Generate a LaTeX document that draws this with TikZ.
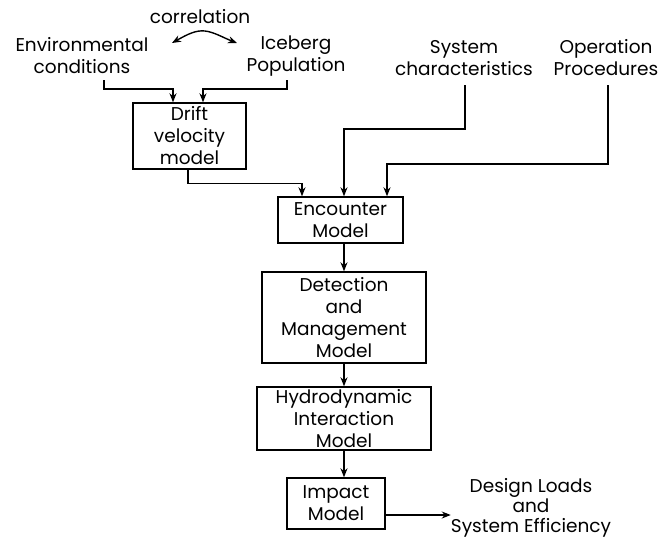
\documentclass[tikz,border=0pt]{standalone}
\usepackage{fontspec}
\setmainfont{Poppins}
\usetikzlibrary{arrows.meta}
\begin{document}
\begin{tikzpicture}[x=1pt,y=-1pt,
  lbl/.style={align=center,inner sep=0pt,font=\fontsize{18.5}{22}\selectfont},
  box/.style={draw,line width=1.4pt,align=center,inner sep=0pt,font=\fontsize{18.5}{22}\selectfont},
  arr/.style={line width=1.4pt,-{Stealth[length=9pt,width=7pt]}},
  dbl/.style={line width=1.4pt,{Stealth[length=9pt,width=7pt]}-{Stealth[length=9pt,width=7pt]}}]
\useasboundingbox (0,0) rectangle (660,539);
% texts
\node[lbl] (corr) at (200,17) {correlation};
\node[lbl] (env) at (82,56) {Environmental\\conditions};
\node[lbl] (ice) at (296,56) {Iceberg\\Population};
\node[lbl] (sys) at (464,58) {System\\characteristics};
\node[lbl] (op) at (606,58) {Operation\\Procedures};
\node[lbl,font=\fontsize{18.5}{20}\selectfont] (design) at (531,508) {Design Loads\\and\\System Efficiency};
% boxes
\node[box,minimum width=113pt,minimum height=66pt] (drift) at (189.5,136) {Drift\\velocity\\model};
\node[box,minimum width=125pt,minimum height=46pt] (enc) at (340.5,220) {Encounter\\Model};
\node[box,minimum width=164pt,minimum height=91pt] (det) at (344,317.5) {Detection\\and\\Management\\Model};
\node[box,minimum width=174pt,minimum height=63pt] (hyd) at (344,418.5) {Hydrodynamic\\Interaction\\Model};
\node[box,minimum width=98pt,minimum height=51pt] (imp) at (336,503.5) {Impact\\Model};
% free ends
\coordinate (c1) at (172,43);
\coordinate (c2) at (237,43);
\coordinate (e1) at (104,80);
\coordinate (i1) at (287,80);
\coordinate (s1) at (465,85);
\coordinate (o1) at (608,85);
% connectors
\draw[dbl] (c1) .. controls (188,34) and (196,30) .. (205,31) .. controls (214,32) and (224,38) .. (c2);
\draw[arr] (e1) -- ++(0,9) -| ([xshift=-16.5pt]drift.north);
\draw[arr] (i1) -- ++(0,9) -| ([xshift=13.5pt]drift.north);
\draw[arr] ([xshift=-1.5pt]drift.south) -- ++(0,14) -| ([xshift=-38.5pt]enc.north);
\draw[arr] (s1) -- ++(0,44) -| ([xshift=3.5pt]enc.north);
\draw[arr] (o1) -- ++(0,79) -| ([xshift=46.5pt]enc.north);
\draw[arr] (det.north |- enc.south) -- (det.north);
\draw[arr] (det.south) -- (hyd.north);
\draw[arr] (hyd.south) -- (hyd.south |- imp.north);
\coordinate (ie) at ([yshift=-11.5pt]imp.east);
\draw[arr] (ie) -- (ie -| design.west);
\end{tikzpicture}
\end{document}
